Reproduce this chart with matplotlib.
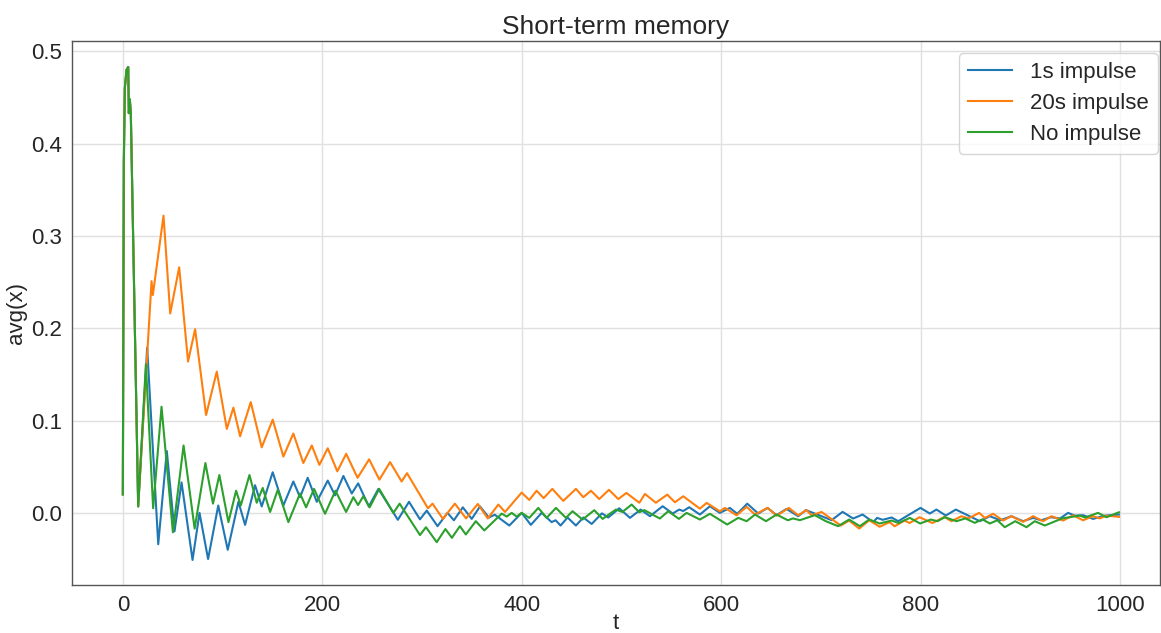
import numpy as np
import matplotlib
matplotlib.use("Agg")
import matplotlib.pyplot as plt

plt.rcParams['font.family'] = ['Liberation Sans', 'DejaVu Sans']

# shared start of all three runs (before the impulse kicks in)
start_t = [0, 1, 2, 3.7, 5.4, 6, 7, 8, 15.4]
start_v = [0.02, 0.38, 0.46, 0.48, 0.483, 0.433, 0.448, 0.433, 0.007]

# 1s impulse (vertices)
t_1s = [24.4, 35.5, 44.1, 51.8, 58.9, 69.9, 76.9, 85.5, 95.7, 105.2, 115.9, 122.6,
        132.6, 139.3, 150.3, 161, 171, 177.7, 185.4, 194.5, 205.5, 212.8, 221.2, 229.6,
        236, 246.7, 256.3, 268, 275.8, 287, 298, 304.8, 315.6, 325.6, 332, 341, 349.9,
        358.2, 367, 373, 387.6, 400, 409.2, 420, 430, 434, 439, 446, 454.4, 461.8, 470.2,
        480.5, 486.8, 497.8, 508.6, 519.3, 528.6, 541.4, 551.4, 558, 562, 568, 578.7,
        588.8, 598.8, 608.8, 616.2, 626.2, 637.2, 646.6, 655.6, 665.6, 677.3, 685, 697,
        710.8, 721.8, 732.4, 741.9, 752.5, 756.5, 762, 771, 777.6, 800, 809.3, 816, 825.3,
        835.4, 859.5, 869.5, 880, 891.2, 902.8, 912.9, 921, 930.6, 940, 948, 955, 963,
        973, 985, 999]
v_1s = [0.179, -0.034, 0.067, -0.020, 0.033, -0.051, 0.0, -0.050, 0.008, -0.040, 0.012,
        -0.013, 0.030, 0.007, 0.044, 0.008, 0.034, 0.017, 0.038, 0.012, 0.035, 0.019,
        0.040, 0.021, 0.032, 0.007, 0.026, 0.006, -0.0075, 0.012, -0.007, 0.0025, -0.0144,
        0.0, -0.008, 0.006, -0.0065, 0.007, -0.005, -0.002, -0.0137, 0.0, -0.013, 0.0,
        -0.010, -0.008, -0.0137, -0.005, -0.0137, -0.005, -0.012, -0.0005, -0.005, 0.005,
        -0.0054, 0.0036, -0.0036, 0.0072, -0.0007, 0.0036, 0.002, 0.0061, -0.0018, 0.0072,
        0.0, 0.0054, -0.001, 0.010, -0.0007, 0.0054, -0.0025, 0.0043, -0.0036, 0.003,
        -0.002, -0.0079, 0.0011, -0.0061, -0.0018, -0.010, -0.0054, -0.0075, -0.005,
        -0.009, 0.0054, -0.0007, 0.0036, -0.0029, 0.0036, -0.009, -0.0036, -0.008,
        -0.0036, -0.009, -0.0054, -0.008, -0.0047, -0.006, 0.0, -0.003, -0.0025, -0.0065,
        -0.003, -0.0018]

# 20s impulse
t_20s = [28.8, 30.1, 40.8, 47.5, 56.5, 65.4, 72.5, 83.5, 94.2, 104.3, 110.9, 117.6,
         128.3, 139.3, 150.3, 161, 171, 181, 189.5, 197.1, 205.5, 215.1, 224, 235.4, 247,
         257.3, 268, 279.6, 285, 306, 310.6, 321, 333, 344.2, 356, 366, 376.6, 383.3, 400,
         407.6, 415, 422, 430.7, 441.7, 454.4, 461.8, 469.5, 477.8, 487.5, 496.9, 505, 518,
         523.6, 534.6, 546, 553.7, 562, 578.7, 585.5, 598.8, 603.8, 615.5, 625.6, 634,
         646.6, 655.6, 668, 677.3, 685.7, 690.7, 700.7, 720, 728.4, 738.5, 748.5, 759, 769,
         774, 784, 789, 799, 812, 824, 831, 841, 848, 858.8, 864.5, 872.8, 882.8, 891,
         902.9, 912.9, 922.9, 931.3, 943, 953, 963, 973, 979.8, 986.5, 999]
v_20s = [0.251, 0.236, 0.322, 0.216, 0.266, 0.164, 0.199, 0.106, 0.153, 0.091, 0.114,
         0.083, 0.120, 0.071, 0.101, 0.061, 0.086, 0.054, 0.073, 0.052, 0.070, 0.045,
         0.064, 0.038, 0.058, 0.036, 0.055, 0.034, 0.043, 0.005, 0.010, -0.0065, 0.010,
         -0.006, 0.0097, -0.006, 0.009, 0.001, 0.022, 0.014, 0.024, 0.016, 0.026, 0.013,
         0.026, 0.017, 0.024, 0.015, 0.025, 0.015, 0.0216, 0.011, 0.0205, 0.011, 0.0198,
         0.0115, 0.018, 0.0046, 0.0108, 0.0017, 0.0054, -0.0026, 0.0065, -0.0018, 0.0054,
         -0.003, 0.0054, -0.0026, 0.003, -0.0026, 0.001, -0.0137, -0.0083, -0.017, -0.008,
         -0.015, -0.010, -0.0145, -0.0083, -0.011, -0.0047, -0.011, -0.0043, -0.009,
         -0.0036, -0.006, 0.0, -0.0054, -0.001, -0.0083, -0.0036, -0.0097, -0.0036, -0.009,
         -0.0036, -0.0083, -0.0026, -0.008, -0.0036, -0.006, -0.003, -0.0043]

# no impulse
t_none = [23.1, 30.4, 38.8, 50.2, 60.9, 72, 82.8, 90.4, 96.8, 105.9, 113.6, 118.3, 127,
          134.3, 140.3, 147.7, 155.4, 166, 177.7, 183.8, 191.8, 202.8, 213.2, 223.9, 231.2,
          235.9, 241.2, 247.5, 257.1, 271.3, 277.6, 298, 304, 314.8, 323.5, 330, 338, 344,
          354, 362.5, 380, 385, 390, 395, 400, 407.6, 416.7, 425, 434.4, 444.4, 451, 461,
          472.8, 481.2, 494.5, 501, 510.3, 518, 523, 538.6, 547, 557.7, 565.4, 578.7, 588.8,
          606.1, 617.2, 625.6, 634, 645, 655.6, 667, 672, 679, 694, 705, 717.4, 728.4,
          739.2, 748.5, 759, 771, 778, 789.3, 799.6, 810.3, 817, 824.4, 836, 845, 854.4,
          862, 869.5, 877, 884.5, 895, 906.3, 914.6, 924.6, 942, 959.7, 965, 978, 986.5, 999]
v_none = [0.161, 0.005, 0.115, -0.021, 0.073, -0.017, 0.054, 0.010, 0.041, -0.010, 0.024,
          0.008, 0.041, 0.011, 0.027, 0.001, 0.025, -0.010, 0.021, 0.006, 0.026, -0.001,
          0.024, 0.001, 0.017, 0.0085, 0.018, 0.006, 0.026, 0.0, 0.010, -0.024, -0.0155,
          -0.0317, -0.0175, -0.027, -0.0144, -0.0234, -0.009, -0.019, -0.0008, -0.004, 0.0,
          -0.004, 0.0, -0.0054, 0.0054, -0.0054, 0.0054, -0.0054, 0.0018, -0.0072, 0.0029,
          -0.0065, 0.0036, 0.001, 0.009, 0.0007, 0.003, -0.0061, 0.0018, -0.0065, 0.0,
          -0.0072, -0.001, -0.0126, -0.0054, -0.009, -0.0018, -0.009, -0.0018, -0.008,
          -0.006, -0.0079, -0.0025, -0.009, -0.0144, -0.0072, -0.0144, -0.0072, -0.0115,
          -0.0083, -0.011, -0.0054, -0.0115, -0.0072, -0.009, -0.0047, -0.009, -0.006,
          -0.0108, -0.007, -0.0115, -0.008, -0.0155, -0.009, -0.0155, -0.009, -0.0137,
          -0.006, -0.0029, -0.005, 0.0, -0.0047, 0.0007]

series = [
    ("1s impulse", t_1s, v_1s, "#1f77b4"),
    ("20s impulse", t_20s, v_20s, "#ff7f0e"),
    ("No impulse", t_none, v_none, "#2ca02c"),
]

fig = plt.figure(figsize=(11.61, 6.33), dpi=100)
ax = fig.add_axes([0.062, 0.076, 0.937, 0.859])

for name, t, v, col in series:
    ax.plot(start_t + t, start_v + v, color=col, lw=1.5, label=name)

ax.set_xlim(-51, 1040)
ax.set_ylim(-0.078, 0.511)
ax.set_xticks([0, 200, 400, 600, 800, 1000])
ax.set_yticks([0.0, 0.1, 0.2, 0.3, 0.4, 0.5])

ax.grid(True, color="#e0e0e0", lw=1.0)
ax.set_axisbelow(True)
for s in ax.spines.values():
    s.set_color("#555555")
    s.set_linewidth(1.0)
ax.tick_params(labelsize=16, length=0, pad=7, colors="#262626")

ax.set_title("Short-term memory", fontsize=19, color="#262626", pad=5)
ax.set_xlabel("t", fontsize=16, color="#262626", labelpad=-2)
ax.set_ylabel("avg(x)", fontsize=16, color="#262626", labelpad=3)

leg = ax.legend(loc="upper right", bbox_to_anchor=(0.998, 0.978), fontsize=16,
                frameon=True, fancybox=True, borderpad=0.4, handlelength=2.0,
                handletextpad=0.8, labelspacing=0.45, borderaxespad=0.0)
leg.get_frame().set_edgecolor("#cccccc")
for txt in leg.get_texts():
    txt.set_color("#262626")

fig.savefig("out.png", dpi=100)
